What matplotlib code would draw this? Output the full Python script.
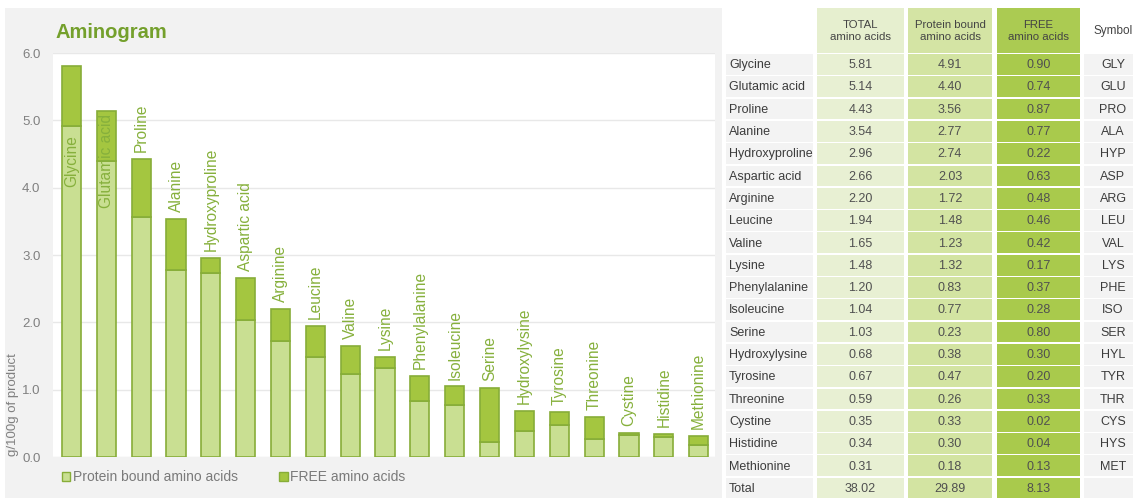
import matplotlib
matplotlib.use('Agg')
import matplotlib.pyplot as plt
from matplotlib.patches import Rectangle, Patch

# Amino acid data (g/100g of product)
acids = ['Glycine', 'Glutamic acid', 'Proline', 'Alanine', 'Hydroxyproline',
         'Aspartic acid', 'Arginine', 'Leucine', 'Valine', 'Lysine',
         'Phenylalanine', 'Isoleucine', 'Serine', 'Hydroxylysine', 'Tyrosine',
         'Threonine', 'Cystine', 'Histidine', 'Methionine']
symbols = ['GLY', 'GLU', 'PRO', 'ALA', 'HYP', 'ASP', 'ARG', 'LEU', 'VAL', 'LYS',
           'PHE', 'ISO', 'SER', 'HYL', 'TYR', 'THR', 'CYS', 'HYS', 'MET']
total = [5.81, 5.14, 4.43, 3.54, 2.96, 2.66, 2.20, 1.94, 1.65, 1.48,
         1.20, 1.04, 1.03, 0.68, 0.67, 0.59, 0.35, 0.34, 0.31]
bound = [4.91, 4.40, 3.56, 2.77, 2.74, 2.03, 1.72, 1.48, 1.23, 1.32,
         0.83, 0.77, 0.23, 0.38, 0.47, 0.26, 0.33, 0.30, 0.18]
free = [0.90, 0.74, 0.87, 0.77, 0.22, 0.63, 0.48, 0.46, 0.42, 0.17,
        0.37, 0.28, 0.80, 0.30, 0.20, 0.33, 0.02, 0.04, 0.13]
sums = [38.02, 29.89, 8.13]
headers = ['TOTAL\namino acids', 'Protein bound\namino acids', 'FREE\namino acids']
yticks = [0.0, 1.0, 2.0, 3.0, 4.0, 5.0, 6.0]

plt.rcParams['font.family'] = ['Liberation Sans', 'DejaVu Sans']

W, H = 1133, 498
fig = plt.figure(figsize=(W / 100, H / 100), dpi=100)
fig.patch.set_facecolor('white')

# gray panel behind the chart
fig.patches.append(Rectangle((5 / W, 0), 717 / W, 1 - 8 / H, transform=fig.transFigure,
                             facecolor='#f2f2f2', edgecolor='none', zorder=-5))

c_bound = '#c9df92'
c_free = '#a4c640'
c_edge = '#87ad38'
c_label = '#86b03c'
c_gray = '#808080'

ax = fig.add_axes([53 / W, 1 - 457 / H, 662 / W, 404 / H])
ax.set_zorder(2)
ax.set_facecolor('white')
x = list(range(len(acids)))
ax.bar(x, bound, width=0.55, color=c_bound, edgecolor=c_edge, linewidth=1.2, zorder=3)
ax.bar(x, free, bottom=bound, width=0.55, color=c_free, edgecolor=c_edge, linewidth=1.2, zorder=3)
ax.set_xlim(-0.53, len(acids) - 0.53)
ax.set_ylim(0, 6.0)
ax.set_yticks(yticks)
ax.set_yticklabels(['%.1f' % v for v in yticks])
ax.set_xticks([])
ax.tick_params(axis='y', length=0, pad=9, labelsize=9.5, labelcolor=c_gray)
ax.grid(axis='y', color='#e8e8e8', linewidth=1, zorder=0)
for s in ax.spines.values():
    s.set_visible(False)

# rotated name labels above the bars (inside when they would overflow)
for i, name in enumerate(acids):
    if total[i] > 5.0:
        ax.text(i, 4.4, name, rotation=90, ha='center', va='center',
                fontsize=11.2, color=c_label, zorder=4)
    else:
        ax.annotate(name, (i, total[i]), xytext=(0, 5), textcoords='offset points',
                    rotation=90, ha='center', va='bottom', fontsize=11.2,
                    color=c_label, zorder=4)

fig.text(55 / W, 1 - 32 / H, 'Aminogram', fontsize=14.5, fontweight='bold',
         color='#74a02c', va='center', ha='left')
fig.text(13 / W, 1 - 405 / H, 'g/100g of product', rotation=90, fontsize=9.5,
         color=c_gray, va='center', ha='center')

handles = [Patch(facecolor=c_bound, edgecolor=c_edge, label='Protein bound amino acids'),
           Patch(facecolor=c_free, edgecolor=c_edge, label='FREE amino acids')]
fig.legend(handles=handles, loc='center left', bbox_to_anchor=(49 / W, 1 - 477 / H),
           ncol=2, frameon=False, fontsize=10, handlelength=0.6, handleheight=0.6,
           handletextpad=0.2, columnspacing=3.0, labelcolor='#7a7a7a')

# table on the right, drawn in pixel coordinates
tx = fig.add_axes([725 / W, 0, (W - 725) / W, 1])
tx.set_xlim(725, W)
tx.set_ylim(H, 0)
tx.axis('off')

col_x = [(817, 904), (908, 992), (997, 1080)]
col_fill = ['#e8f0d3', '#d3e4a2', '#a9ca4c']
head_fill = ['#e6efcf', '#d4e4a4', '#abcb52']
row_top = 54
row_h = 22.3

for j, (x0, x1) in enumerate(col_x):
    tx.add_patch(Rectangle((x0, 8), x1 - x0, row_top - 9, facecolor=head_fill[j], edgecolor='none'))
    tx.text((x0 + x1) / 2, (8 + row_top) / 2, headers[j], ha='center', va='center',
            fontsize=8.2, color='#444444', linespacing=1.15)
tx.text(1113, 31, 'Symbol', ha='center', va='center', fontsize=8.5, color='#444444')

rows = [(acids[i], total[i], bound[i], free[i], symbols[i]) for i in range(len(acids))]
rows.append(('Total', sums[0], sums[1], sums[2], ''))
for r, (name, t, b, f, sym) in enumerate(rows):
    y0 = row_top + r * row_h
    yc = y0 + row_h / 2
    tx.add_patch(Rectangle((726, y0), 87, row_h - 1.5, facecolor='#f3f3f3', edgecolor='none'))
    tx.add_patch(Rectangle((1084, y0), 49, row_h - 1.5, facecolor='#f3f3f3', edgecolor='none'))
    for j, (x0, x1) in enumerate(col_x):
        tx.add_patch(Rectangle((x0, y0), x1 - x0, row_h - 1.5, facecolor=col_fill[j], edgecolor='none'))
        tx.text((x0 + x1) / 2, yc, '%.2f' % (t, b, f)[j], ha='center', va='center',
                fontsize=9, color='#505050')
    tx.text(729, yc, name, ha='left', va='center', fontsize=9, color='#3c3c3c')
    tx.text(1113, yc, sym, ha='center', va='center', fontsize=9, color='#3c3c3c')

fig.savefig('out.png', dpi=100)
